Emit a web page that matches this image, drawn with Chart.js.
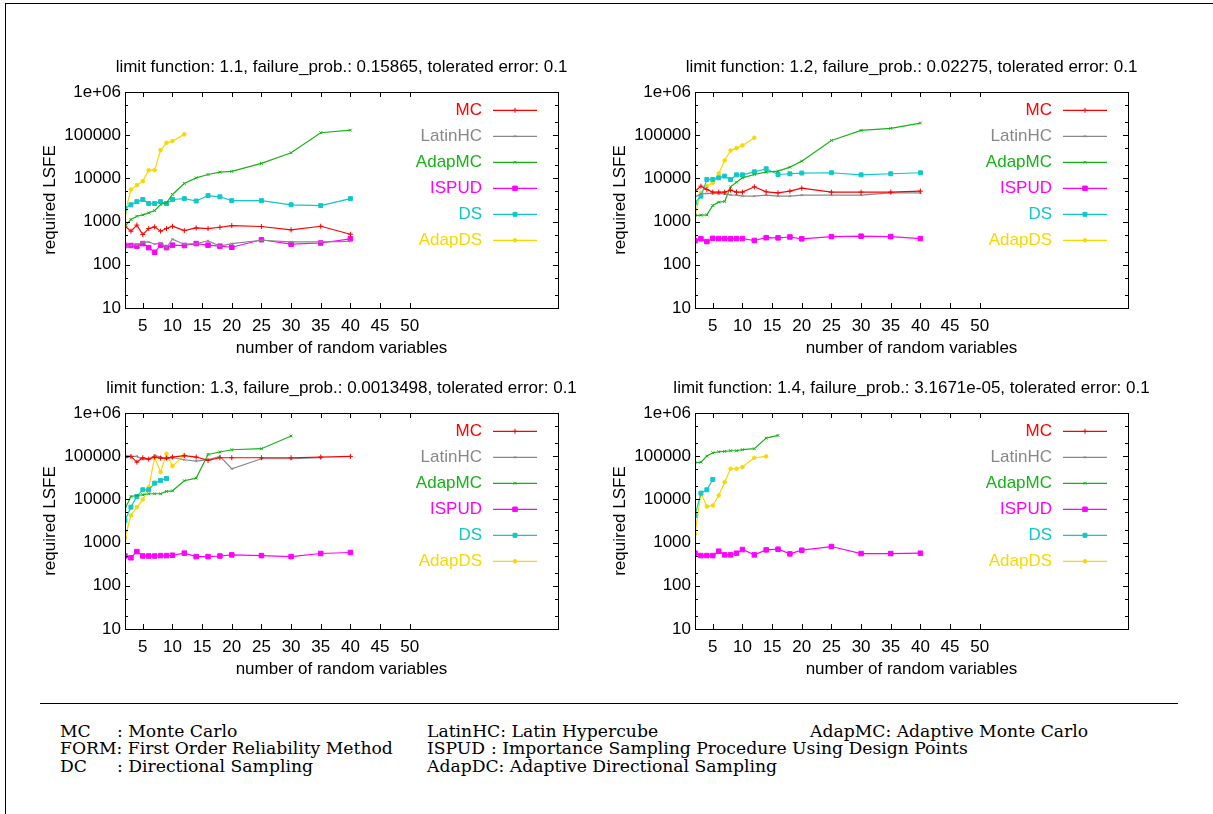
<!DOCTYPE html>
<html>
<head>
<meta charset="utf-8">
<script src="https://cdn.jsdelivr.net/npm/chart.js@4.4.1/dist/chart.umd.min.js"></script>
<style>
  body { margin: 0; background: #fff; width: 1213px; height: 814px; position: relative; overflow: hidden; }
  #frame { position: absolute; left: 5px; top: 3px; right: -2px; bottom: -2px; border-left: 1px solid #000; border-top: 1px solid #000; }
  canvas { position: absolute; }
  #rule { position: absolute; left: 40px; top: 703px; width: 1138px; border-top: 1px solid #000; }
  .fn { position: absolute; font-family: "DejaVu Serif", serif; font-size: 17.2px; line-height: 18px; white-space: pre; color: #000; }
</style>
</head>
<body>
<div id="frame"></div>
<canvas id="c1" width="580" height="330" style="left:0px;top:40px"></canvas>
<canvas id="c2" width="580" height="330" style="left:570px;top:40px"></canvas>
<canvas id="c3" width="580" height="330" style="left:0px;top:361px"></canvas>
<canvas id="c4" width="580" height="330" style="left:570px;top:361px"></canvas>
<div id="rule"></div>

<div class="fn" style="left:60px;top:722px">MC</div>
<div class="fn" style="left:117px;top:722px">: Monte Carlo</div>
<div class="fn" style="left:60px;top:739px">FORM: First Order Reliability Method</div>
<div class="fn" style="left:60px;top:757px">DC</div>
<div class="fn" style="left:117px;top:757px">: Directional Sampling</div>
<div class="fn" style="left:427px;top:722px">LatinHC: Latin Hypercube</div>
<div class="fn" style="left:427px;top:739px">ISPUD</div>
<div class="fn" style="left:491px;top:739px">: Importance Sampling Procedure Using Design Points</div>
<div class="fn" style="left:427px;top:757px">AdapDC: Adaptive Directional Sampling</div>
<div class="fn" style="left:810px;top:722px">AdapMC: Adaptive Monte Carlo</div>

<script>
// ─── DONNÉES ──────────────────────────────────────────────────────────────
const XS = [2, 3, 4, 5, 6, 7, 8, 9, 10, 12, 14, 16, 18, 20, 25, 30, 35, 40];
const X_TICKS = [5, 10, 15, 20, 25, 30, 35, 40, 45, 50];
const Y_TICKS = [10, 100, 1000, 10000, 100000, 1000000];

const NAMES  = ['MC', 'LatinHC', 'AdapMC', 'ISPUD', 'DS', 'AdapDS'];
const TITLES = [
    'limit function: 1.1, failure_prob.: 0.15865, tolerated error: 0.1',
    'limit function: 1.2, failure_prob.: 0.02275, tolerated error: 0.1',
    'limit function: 1.3, failure_prob.: 0.0013498, tolerated error: 0.1',
    'limit function: 1.4, failure_prob.: 3.1671e-05, tolerated error: 0.1'
];

// limit function 1.1
const P1_MC      = [780, 600, 830, 500, 690, 755, 600, 690, 780, 620, 715, 690, 740, 810, 770, 645, 780, 510];
const P1_LATINHC = [270, 280, 290, 330, 340, 300, 320, 250, 390, 300, 310, 360, 270, 310, 370, 340, 340, 350];
const P1_ADAPMC  = [780, 1120, 1330, 1430, 1590, 1800, 2490, 2720, 4240, 7640, 10300, 12300, 14000, 14500, 22200, 39200, 114000, 131000];
const P1_ISPUD   = [280, 280, 270, 310, 250, 195, 285, 250, 285, 280, 310, 285, 270, 255, 380, 300, 320, 400];
const P1_DS      = [2000, 2450, 2900, 3250, 2620, 2620, 2900, 2620, 3250, 3400, 3000, 4000, 3750, 3050, 3050, 2450, 2350, 3400];
const P1_ADAPDS  = [1590, 5530, 6980, 8640, 15500, 15500, 45200, 66800, 73100, 104500];

// limit function 1.2
const P2_MC      = [5070, 6620, 5540, 4800, 4800, 4800, 5350, 4800, 4800, 6390, 4890, 4630, 5070, 5940, 4800, 4800, 4800, 5070];
const P2_LATINHC = [3740, 4390, 4470, 4470, 4470, 4390, 4170, 4100, 3880, 3880, 4100, 3880, 3880, 4100, 4100, 4100, 4630, 4630];
const P2_ADAPMC  = [1380, 1410, 1430, 2360, 2820, 2920, 6380, 8180, 10300, 12300, 14000, 14700, 18200, 25100, 75700, 129000, 144000, 191000];
const P2_ISPUD   = [360, 400, 345, 410, 405, 405, 400, 405, 405, 365, 425, 420, 440, 400, 450, 460, 450, 405];
const P2_DS      = [2720, 3880, 9440, 9440, 10300, 11300, 9440, 12100, 12100, 14200, 16700, 12300, 12800, 13300, 13500, 12100, 12800, 13500];
const P2_ADAPDS  = [1460, 4630, 6620, 7900, 13000, 26000, 44400, 50300, 58000, 87400];

// limit function 1.3
const P3_MC      = [92100, 98900, 73100, 92100, 85800, 95600, 90600, 90600, 95600, 102600, 95600, 80000, 92100, 92100, 92100, 92100, 95600, 98900];
const P3_LATINHC = [104500, 98900, 98900, 84300, 85800, 104500, 95600, 87400, 92100, 82800, 77100, 82800, 98900, 51200, 87400, 87400, 92100];
const P3_ADAPMC  = [6050, 11700, 12300, 12800, 13500, 13500, 13500, 15300, 15800, 27000, 31100, 110000, 125000, 141000, 149000, 293000];
const P3_ISPUD   = [490, 445, 620, 490, 490, 490, 500, 500, 510, 570, 475, 475, 490, 520, 500, 475, 560, 590];
const P3_DS      = [3250, 6620, 11700, 16700, 16700, 23800, 27500, 30600];
const P3_ADAPDS  = [1290, 4240, 6620, 9960, 19200, 92100, 42800, 114000, 59000, 104500];

// limit function 1.4
const P4_MC      = [];
const P4_LATINHC = [];
const P4_ADAPMC  = [70600, 73100, 100700, 120200, 126900, 129200, 133800, 133800, 141400, 149000, 263000, 303000];
const P4_ISPUD   = [568, 501, 501, 501, 632, 520, 520, 568, 691, 520, 679, 703, 548, 667, 811, 558, 558, 568];
const P4_DS      = [4240, 13970, 16700, 29000];
const P4_ADAPDS  = [1590, 13970, 6860, 7230, 12340, 25100, 51200, 51200, 56000, 92100, 98900];

// ─── STYLES ───────────────────────────────────────────────────────────────
const COLORS = ['#ff0000', '#888888', '#16b316', '#ff00ff', '#10c8c8', '#f8d800'];
const POINTS = ['cross', 'crossRot', 'crossRot', 'rect', 'rect', 'circle'];
const RADII  = [2.5, 1.5, 2, 3.2, 2.8, 1.8];
const FONT   = '"Liberation Sans", Arial, sans-serif';

const pts = vals => vals.map((v, i) => ({ x: XS[i], y: v }));

// titre centré sur la zone de tracé (sans compression de texte)
const panelTitle = {
    id: 'panelTitle',
    afterDraw(chart, args, opts) {
        const { ctx, chartArea: a } = chart;
        ctx.save();
        ctx.font = '17px ' + FONT;
        ctx.fillStyle = '#000';
        ctx.textAlign = 'center';
        ctx.textBaseline = 'middle';
        ctx.fillText(opts.text, (a.left + a.right) / 2, a.top - 25);
        ctx.restore();
    }
};

// cadre et graduations internes façon gnuplot
const gnuFrame = {
    id: 'gnuFrame',
    afterDatasetsDraw(chart) {
        const { ctx, chartArea: a, scales: { x, y } } = chart;
        ctx.save();
        ctx.strokeStyle = '#000';
        ctx.lineWidth = 1;
        ctx.beginPath();
        X_TICKS.forEach(v => {
            const px = Math.round(x.getPixelForValue(v)) + 0.5;
            ctx.moveTo(px, a.bottom); ctx.lineTo(px, a.bottom - 5);
            ctx.moveTo(px, a.top);    ctx.lineTo(px, a.top + 5);
        });
        Y_TICKS.forEach(d => {
            const py = Math.round(y.getPixelForValue(d)) + 0.5;
            ctx.moveTo(a.left, py);  ctx.lineTo(a.left + 5, py);
            ctx.moveTo(a.right, py); ctx.lineTo(a.right - 5, py);
            if (d < 1000000) {
                [2, 5].forEach(m => {
                    const pm = Math.round(y.getPixelForValue(d * m)) + 0.5;
                    ctx.moveTo(a.left, pm);  ctx.lineTo(a.left + 3, pm);
                    ctx.moveTo(a.right, pm); ctx.lineTo(a.right - 3, pm);
                });
            }
        });
        ctx.stroke();
        ctx.strokeRect(Math.round(a.left) + 0.5, Math.round(a.top) + 0.5,
                       Math.round(a.right - a.left), Math.round(a.bottom - a.top));
        ctx.restore();
    }
};

// légende à droite, texte aligné à droite puis échantillon
const gnuKey = {
    id: 'gnuKey',
    afterDatasetsDraw(chart) {
        const { ctx, chartArea: a } = chart;
        ctx.save();
        ctx.font = '17px ' + FONT;
        ctx.textAlign = 'right';
        ctx.textBaseline = 'middle';
        chart.data.datasets.forEach((ds, i) => {
            const yy = Math.round(a.top + 18 + 26 * i);
            ctx.fillStyle = ds.borderColor;
            ctx.strokeStyle = ds.borderColor;
            ctx.fillText(ds.label, a.right - 76, yy);
            ctx.lineWidth = 1.3;
            ctx.beginPath();
            ctx.moveTo(a.right - 65, yy + 0.3);
            ctx.lineTo(a.right - 21, yy + 0.3);
            ctx.stroke();
            ctx.lineWidth = 1;
            if (Chart.helpers && Chart.helpers.drawPoint) {
                ctx.beginPath();
                Chart.helpers.drawPoint(ctx, { pointStyle: ds.pointStyle, radius: ds.pointRadius, borderWidth: 1, rotation: 0 }, a.right - 43, yy + 0.3);
            }
        });
        ctx.restore();
    }
};

function makeChart(id, title, series) {
    return new Chart(document.getElementById(id), {
        type: 'line',
        data: {
            datasets: NAMES.map((n, k) => ({
                label: n,
                data: pts(series[k]),
                borderColor: COLORS[k],
                backgroundColor: COLORS[k],
                pointBackgroundColor: COLORS[k],
                pointBorderColor: COLORS[k],
                borderWidth: 1.2,
                pointStyle: POINTS[k],
                pointRadius: RADII[k],
                pointBorderWidth: 1,
                tension: 0,
                fill: false
            }))
        },
        options: {
            responsive: false,
            animation: false,
            layout: { padding: { left: 0, right: 22, top: 52, bottom: 0 } },
            scales: {
                x: {
                    type: 'linear',
                    min: 2, max: 75,
                    afterBuildTicks: s => { s.ticks = X_TICKS.map(v => ({ value: v })); },
                    afterFit: s => { s.height = 62; },
                    grid: { display: false, drawTicks: false },
                    border: { display: false },
                    ticks: { color: '#000', padding: 8, autoSkip: false, maxRotation: 0, font: { size: 17, family: FONT } },
                    title: { display: true, text: 'number of random variables', color: '#000',
                             padding: { top: 0, bottom: 11 }, font: { size: 17, family: FONT } }
                },
                y: {
                    type: 'logarithmic',
                    min: 10, max: 1000000,
                    afterBuildTicks: s => { s.ticks = Y_TICKS.map(v => ({ value: v })); },
                    afterFit: s => { s.width = 125; },
                    grid: { display: false, drawTicks: false },
                    border: { display: false },
                    ticks: {
                        color: '#000', padding: 4, autoSkip: false,
                        font: { size: 17, family: FONT },
                        callback: v => v === 1000000 ? '1e+06' : String(v)
                    },
                    title: { display: true, text: 'required LSFE', color: '#000',
                             padding: { top: 40, bottom: 0 }, font: { size: 17, family: FONT } }
                }
            },
            plugins: {
                legend: { display: false },
                tooltip: { enabled: false },
                panelTitle: { text: title }
            }
        },
        plugins: [panelTitle, gnuFrame, gnuKey]
    });
}

makeChart('c1', TITLES[0], [P1_MC, P1_LATINHC, P1_ADAPMC, P1_ISPUD, P1_DS, P1_ADAPDS]);
makeChart('c2', TITLES[1], [P2_MC, P2_LATINHC, P2_ADAPMC, P2_ISPUD, P2_DS, P2_ADAPDS]);
makeChart('c3', TITLES[2], [P3_MC, P3_LATINHC, P3_ADAPMC, P3_ISPUD, P3_DS, P3_ADAPDS]);
makeChart('c4', TITLES[3], [P4_MC, P4_LATINHC, P4_ADAPMC, P4_ISPUD, P4_DS, P4_ADAPDS]);
</script>
</body>
</html>
